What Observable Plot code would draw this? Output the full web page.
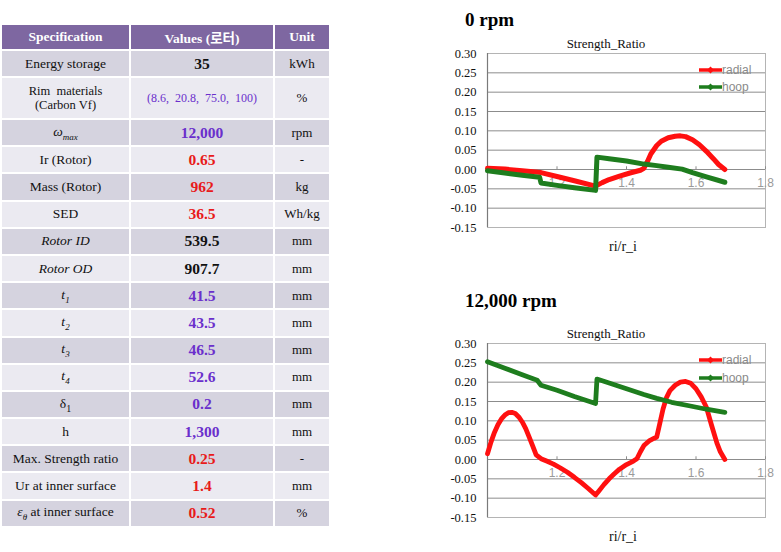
<!DOCTYPE html>
<html>
<head>
<meta charset="utf-8">
<script src="https://cdn.jsdelivr.net/npm/d3@7"></script>
<script src="https://cdn.jsdelivr.net/npm/@observablehq/plot@0.6"></script>
<style>
  html, body { margin: 0; padding: 0; background: #ffffff; }
  body { width: 781px; height: 552px; position: relative; overflow: hidden;
         font-family: "Liberation Serif", "Times New Roman", "DejaVu Serif", serif; }
  #tbl { position: absolute; left: 0; top: 23px; border-collapse: collapse; table-layout: fixed; }
  #tbl td, #tbl th { border: 2px solid #ffffff; text-align: center; padding: 0; vertical-align: middle;
         font-family: "Liberation Serif", "Times New Roman", "DejaVu Serif", serif; }
  #tbl th { background: #7e67a1; color: #ffffff; font-weight: bold; font-size: 13.5px; }
  #tbl td.spec { font-size: 13.5px; color: #111; }
  #tbl td.val { font-size: 15.5px; font-weight: bold; }
  #tbl td.unit { font-size: 13px; color: #111; }
  .kr { font-family: "Noto Sans CJK KR", sans-serif; }
  .abs { position: absolute; white-space: nowrap; }
  .title { font-family: "Liberation Serif", "Times New Roman", serif; font-weight: bold; font-size: 19px; line-height: 1; color: #000; }
  .ctitle { font-family: "Liberation Serif", "Times New Roman", serif; font-size: 13px; line-height: 1; color: #111; transform: translate(-50%, -50%); }
  .xtitle { font-family: "Liberation Serif", "Times New Roman", serif; font-size: 14px; line-height: 1; color: #111; transform: translate(-50%, -50%); }
  .leg { font-family: "Liberation Sans", Arial, sans-serif; font-size: 12px; color: #8a8a8a; line-height: 1; display: flex; align-items: center; }
  .chart { position: absolute; }
</style>
</head>
<body>
<script>
// ---------- table data ----------
const headers = ["Specification", "Values (<span class='kr'>로터</span>)", "Unit"];
const specNames = [
  "Energy storage",
  "Rim&nbsp; materials<br>(Carbon Vf)",
  "<i>ω<sub style='font-size:9px'>max</sub></i>",
  "Ir (Rotor)",
  "Mass (Rotor)",
  "SED",
  "<i>Rotor ID</i>",
  "<i>Rotor OD</i>",
  "<i>t<sub style='font-size:9px'>1</sub></i>",
  "<i>t<sub style='font-size:9px'>2</sub></i>",
  "<i>t<sub style='font-size:9px'>3</sub></i>",
  "<i>t<sub style='font-size:9px'>4</sub></i>",
  "δ<sub style='font-size:10px'>1</sub>",
  "h",
  "Max. Strength ratio",
  "Ur at inner surface",
  "<i>ε<sub style='font-size:9px'>θ</sub></i> at inner surface"
];
const specValues = ["35", "(8.6,&nbsp; 20.8,&nbsp; 75.0,&nbsp; 100)", "12,000", "0.65", "962", "36.5", "539.5", "907.7",
  "41.5", "43.5", "46.5", "52.6", "0.2", "1,300", "0.25", "1.4", "0.52"];
const valueTone = ["black", "purple", "purple", "red", "red", "red", "black", "black",
  "purple", "purple", "purple", "purple", "purple", "purple", "red", "red", "red"];
const units = ["kWh", "%", "rpm", "-", "kg", "Wh/kg", "mm", "mm", "mm", "mm", "mm", "mm", "mm", "mm", "-", "mm", "%"];

// ---------- chart data ----------
const seriesNames = ["radial", "hoop"];
const xTicks = [1.2, 1.4, 1.6, 1.8];
const yTicks = [-0.15, -0.10, -0.05, 0.00, 0.05, 0.10, 0.15, 0.20, 0.25, 0.30];

// 0 rpm
const r0_x = [1.000, 1.050, 1.100, 1.154, 1.200, 1.250, 1.311, 1.330, 1.350, 1.380, 1.410, 1.440, 1.450, 1.460, 1.470, 1.487, 1.500, 1.520, 1.540, 1.555, 1.570, 1.590, 1.610, 1.630, 1.650, 1.665, 1.683];
const r0_y = [0.003, 0.001, -0.003, -0.008, -0.018, -0.029, -0.043, -0.034, -0.026, -0.017, -0.009, -0.002, 0.003, 0.020, 0.040, 0.062, 0.073, 0.082, 0.086, 0.087, 0.085, 0.077, 0.064, 0.047, 0.028, 0.013, 0.000];
const h0_x = [1.000, 1.050, 1.100, 1.150, 1.154, 1.200, 1.250, 1.311, 1.315, 1.350, 1.400, 1.450, 1.487, 1.520, 1.560, 1.590, 1.630, 1.683];
const h0_y = [-0.003, -0.009, -0.015, -0.020, -0.035, -0.041, -0.047, -0.054, 0.032, 0.028, 0.022, 0.014, 0.010, 0.006, 0.001, -0.008, -0.019, -0.033];

// 12,000 rpm
const r1_x = [1.000, 1.010, 1.020, 1.030, 1.040, 1.050, 1.060, 1.070, 1.080, 1.090, 1.100, 1.110, 1.120, 1.130, 1.140, 1.154, 1.170, 1.190, 1.210, 1.230, 1.250, 1.270, 1.290, 1.311, 1.320, 1.335, 1.350, 1.365, 1.380, 1.400, 1.420, 1.430, 1.440, 1.450, 1.465, 1.480, 1.487, 1.495, 1.505, 1.515, 1.525, 1.540, 1.555, 1.570, 1.585, 1.600, 1.615, 1.630, 1.645, 1.660, 1.670, 1.683];
const r1_y = [0.015, 0.045, 0.070, 0.090, 0.105, 0.115, 0.121, 0.122, 0.119, 0.110, 0.097, 0.080, 0.058, 0.035, 0.012, 0.002, -0.004, -0.012, -0.022, -0.033, -0.046, -0.060, -0.075, -0.092, -0.082, -0.065, -0.050, -0.037, -0.025, -0.013, -0.004, 0.002, 0.020, 0.036, 0.048, 0.055, 0.058, 0.090, 0.130, 0.160, 0.178, 0.192, 0.200, 0.202, 0.197, 0.183, 0.162, 0.135, 0.088, 0.043, 0.020, 0.000];
const h1_x = [1.000, 1.050, 1.100, 1.143, 1.154, 1.200, 1.250, 1.311, 1.315, 1.350, 1.400, 1.450, 1.487, 1.530, 1.580, 1.630, 1.683];
const h1_y = [0.253, 0.236, 0.219, 0.205, 0.192, 0.179, 0.163, 0.145, 0.208, 0.198, 0.183, 0.168, 0.158, 0.148, 0.139, 0.130, 0.122];

const toneColor = {black: "#111111", purple: "#6a2fcc", red: "#e81a1a"};
const seriesColor = {radial: "#ff1010", hoop: "#1e7d1e"};
const serif = "Liberation Serif, Times New Roman, DejaVu Serif, serif";

// ---------- build table ----------
const rowHeights = [27, 42].concat(new Array(15).fill(27.2));
let html = "<colgroup><col style='width:129px'><col style='width:144px'><col style='width:56px'></colgroup>";
html += "<tr style='height:26px'>" + headers.map(h => `<th>${h}</th>`).join("") + "</tr>";
specNames.forEach((s, i) => {
  const bg = i % 2 === 0 ? "#d5d3df" : "#ebeaf1";
  const valStyle = i === 1 ? "font-size:12px;font-weight:normal;" : "";
  const specStyle = i === 1 ? "font-size:12.5px;line-height:1.15;" : "";
  html += `<tr style="height:${rowHeights[i]}px;background:${bg}">` +
    `<td class="spec" style="${specStyle}">${s}</td>` +
    `<td class="val" style="color:${toneColor[valueTone[i]]};${valStyle}">${specValues[i]}</td>` +
    `<td class="unit">${units[i]}</td></tr>`;
});
const tbl = document.createElement("table");
tbl.id = "tbl";
tbl.innerHTML = html;
document.body.appendChild(tbl);

// ---------- charts ----------
function makeData(xs, ys) { return xs.map((x, i) => ({x, y: ys[i]})); }

function chart(radial, hoop, lw) {
  return Plot.plot({
    width: 340, height: 204,
    marginLeft: 47, marginRight: 15, marginTop: 8, marginBottom: 22,
    x: {domain: [1, 1.8], axis: null},
    y: {domain: [-0.15, 0.30], axis: null},
    style: {background: "transparent", overflow: "visible", fontFamily: serif},
    marks: [
      Plot.ruleY(yTicks, {y: d => d, stroke: "#8c8c8c", strokeWidth: 1}),
      Plot.frame({stroke: "#b4b4b4"}),
      Plot.ruleX([1], {x: d => d, stroke: "#7a7a7a", strokeWidth: 1.2}),
      Plot.ruleX(xTicks, {x: d => d, y1: d => 0, y2: d => 0.007, stroke: "#8c8c8c"}),
      Plot.text(xTicks, {x: d => d, y: d => 0, dy: 14, text: d => d.toFixed(1), fill: "#9a9a9a",
        fontFamily: "Liberation Sans, Arial, sans-serif", fontSize: 12}),
      Plot.axisY({ticks: yTicks, tickSize: 0, tickPadding: 11, tickFormat: d => d.toFixed(2),
        fontFamily: serif, fontSize: 12.5, fill: "#111", label: null}),
      Plot.line(radial, {x: "x", y: "y", stroke: seriesColor.radial, strokeWidth: lw, strokeLinejoin: "round", strokeLinecap: "round"}),
      Plot.line(hoop, {x: "x", y: "y", stroke: seriesColor.hoop, strokeWidth: lw, strokeLinejoin: "round", strokeLinecap: "round"})
    ]
  });
}

function addAbs(cls, text, left, top) {
  const d = document.createElement("div");
  d.className = "abs " + cls;
  d.innerHTML = text;
  d.style.left = left + "px";
  d.style.top = top + "px";
  document.body.appendChild(d);
  return d;
}

function legend(top1, top2) {
  [top1, top2].forEach((t, i) => {
    const name = seriesNames[i];
    const c = seriesColor[name];
    addAbs("leg",
      `<svg width="23" height="8" style="overflow:visible"><line x1="0" y1="4" x2="23" y2="4" stroke="${c}" stroke-width="3.5"/>` +
      `<path d="M11.5 0.5 L15 4 L11.5 7.5 L8 4 Z" fill="${c}"/></svg><span>${name}</span>`,
      699, t - 5);
  });
}

const c1 = chart(makeData(r0_x, r0_y), makeData(h0_x, h0_y), 5);
c1.classList.add("chart");
c1.style.left = "440px"; c1.style.top = "45px";
document.body.appendChild(c1);

const c2 = chart(makeData(r1_x, r1_y), makeData(h1_x, h1_y), 4.8);
c2.classList.add("chart");
c2.style.left = "440px"; c2.style.top = "335px";
document.body.appendChild(c2);

addAbs("title", "0 rpm", 465, 10);
addAbs("title", "12,000 rpm", 465, 291);
addAbs("ctitle", "Strength_Ratio", 606, 43);
addAbs("ctitle", "Strength_Ratio", 606, 333);
addAbs("xtitle", "ri/r_i", 623, 247);
addAbs("xtitle", "ri/r_i", 623, 537);
legend(69, 86);
legend(359, 377);
</script>
</body>
</html>
